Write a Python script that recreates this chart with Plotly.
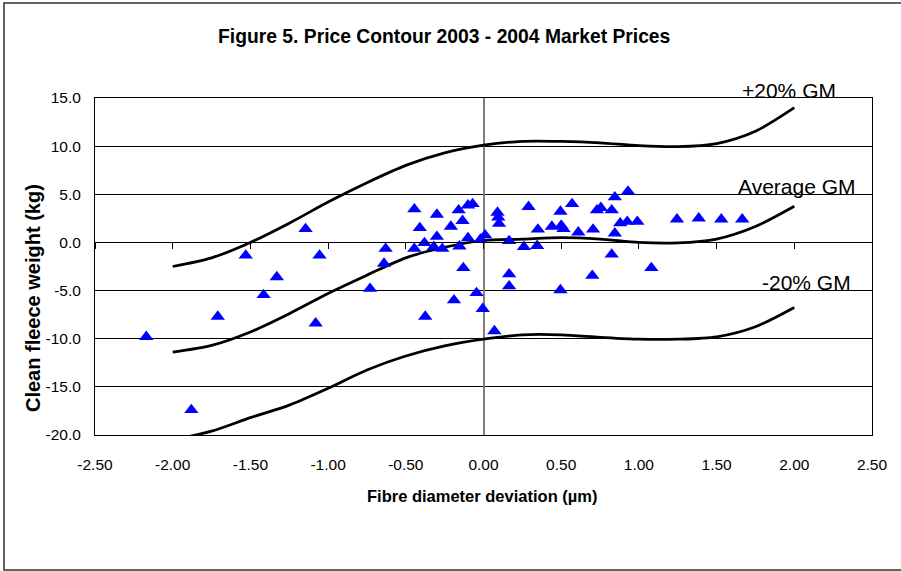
import plotly.graph_objects as go

# contour curves (fibre diameter deviation vs clean fleece weight)
curve_x = [-2.0, -1.75, -1.5, -1.25, -1.0, -0.75, -0.5, -0.25, 0.0,
           0.25, 0.5, 0.75, 1.0, 1.25, 1.5, 1.75, 2.0]
plus20 = [-2.5, -1.6, 0.0, 2.0, 4.2, 6.2, 8.0, 9.3, 10.1,
          10.5, 10.5, 10.35, 10.05, 9.95, 10.27, 11.55, 14.0]
average = [-11.4, -10.7, -9.3, -7.4, -5.3, -3.4, -1.6, -0.5, 0.2,
           0.35, 0.5, 0.35, 0.0, -0.05, 0.35, 1.65, 3.75]
minus20 = [-20.5, -19.6, -18.2, -16.9, -15.15, -13.25, -11.8, -10.75, -10.05,
           -9.6, -9.6, -9.85, -10.05, -10.05, -9.8, -8.75, -6.75]

# market price observations
fd_dev = [-2.17, -1.88, -1.71, -1.53, -1.415, -1.33, -1.145, -1.08, -1.055,
          -0.73, -0.64, -0.63, -0.445, -0.445, -0.41, -0.38, -0.375, -0.32,
          -0.30, -0.30, -0.265, -0.21, -0.19, -0.16, -0.155, -0.135, -0.13,
          -0.10, -0.10, -0.07, -0.045, -0.02, -0.005, 0.01, 0.07, 0.09,
          0.095, 0.10, 0.165, 0.165, 0.165, 0.26, 0.29, 0.345, 0.35,
          0.44, 0.495, 0.495, 0.50, 0.515, 0.57, 0.61, 0.70, 0.705,
          0.73, 0.755, 0.825, 0.825, 0.845, 0.845, 0.88, 0.925, 0.93,
          0.99, 1.08, 1.245, 1.385, 1.53, 1.665]
cfw = [-9.8, -17.4, -7.7, -1.35, -5.45, -3.6, 1.4, -8.4, -1.35,
       -4.8, -2.2, -0.65, 3.45, -0.65, 1.5, -0.05, -7.7, -0.45,
       2.9, 0.6, -0.65, 1.65, -6.0, 3.35, -0.4, 2.25, -2.65,
       3.85, 0.45, 4.0, -5.25, 0.3, -6.9, 0.75, -9.2, 3.1,
       2.6, 1.95, 0.15, -3.3, -4.55, -0.45, 3.7, -0.35, 1.35,
       1.65, 3.2, -4.95, 1.75, 1.4, 4.0, 1.05, -3.45, 1.35,
       3.35, 3.6, 3.35, -1.25, 0.95, 4.7, 2.0, 2.15, 5.3,
       2.15, -2.65, 2.4, 2.5, 2.4, 2.4]

x_ticks = [-2.5, -2.0, -1.5, -1.0, -0.5, 0.0, 0.5, 1.0, 1.5, 2.0, 2.5]
x_labels = ["-2.50", "-2.00", "-1.50", "-1.00", "-0.50", "0.00",
            "0.50", "1.00", "1.50", "2.00", "2.50"]
y_ticks = [15, 10, 5, 0, -5, -10, -15, -20]
y_labels = ["15.0", "10.0", "5.0", "0.0", "-5.0", "-10.0", "-15.0", "-20.0"]

FONT = "Liberation Sans, Arial, sans-serif"


def px_to_paper_y(py):
    # plot area spans pixels 98 (top) to 435 (bottom)
    return (435 - py) / 337


def px_to_paper_x(px):
    # plot area spans pixels 95 (left) to 872 (right)
    return (px - 95) / 777


fig = go.Figure()
for ys in (plus20, average, minus20):
    fig.add_trace(go.Scatter(x=curve_x, y=ys, mode="lines",
                             line=dict(color="black", width=2.75, shape="spline", smoothing=0.8),
                             hoverinfo="skip", showlegend=False))
fig.add_trace(go.Scatter(x=fd_dev, y=cfw, mode="markers",
                         marker=dict(symbol="triangle-up", size=12.5, color="#0000FF"),
                         showlegend=False))
# helper trace so the axis drawn through y = 0 gets rendered
fig.add_trace(go.Scatter(x=[0], y=[0], xaxis="x2", mode="markers",
                         marker=dict(opacity=0), hoverinfo="skip", showlegend=False))

fig.update_layout(
    width=901, height=571,
    margin=dict(l=95, r=29, t=98, b=136),
    paper_bgcolor="white", plot_bgcolor="white",
    font=dict(family=FONT, color="black"),
    title=dict(text="<b>Figure 5. Price Contour 2003 - 2004 Market Prices</b>",
               font=dict(size=19.3, family=FONT), x=0.493, xref="container",
               xanchor="center", y=1 - 36 / 571, yanchor="middle"),
    xaxis=dict(range=[-2.5, 2.5], tickvals=x_ticks, ticktext=x_labels,
               showgrid=False, zeroline=True, zerolinecolor="#808080", zerolinewidth=1.5,
               showline=True, mirror=True, linecolor="black", linewidth=1,
               ticks="", ticklabelstandoff=15, tickfont=dict(size=15.5)),
    xaxis2=dict(range=[-2.5, 2.5], overlaying="x", anchor="free", position=20 / 35,
                tickvals=x_ticks, showticklabels=False, showgrid=False, zeroline=False,
                showline=True, linecolor="black", linewidth=1,
                ticks="outside", ticklen=6, tickcolor="black", tickwidth=1),
    yaxis=dict(range=[-20, 15], tickvals=y_ticks, ticktext=y_labels,
               showgrid=True, gridcolor="black", gridwidth=1,
               zeroline=True, zerolinecolor="black", zerolinewidth=1,
               showline=True, mirror=True, linecolor="black", linewidth=1,
               ticks="", ticklabelstandoff=10, tickfont=dict(size=15.5)),
    annotations=[
        dict(text="+20% GM", x=px_to_paper_x(789), y=px_to_paper_y(90),
             xref="paper", yref="paper", showarrow=False, font=dict(size=21),
             xanchor="center", yanchor="middle"),
        dict(text="Average GM", x=px_to_paper_x(797), y=px_to_paper_y(186),
             xref="paper", yref="paper", showarrow=False, font=dict(size=21),
             xanchor="center", yanchor="middle"),
        dict(text="-20% GM", x=px_to_paper_x(806), y=px_to_paper_y(282),
             xref="paper", yref="paper", showarrow=False, font=dict(size=21),
             xanchor="center", yanchor="middle"),
        dict(text="<b>Fibre diameter deviation (µm)</b>", x=px_to_paper_x(482),
             y=px_to_paper_y(496), xref="paper", yref="paper", showarrow=False,
             font=dict(size=16.5), xanchor="center", yanchor="middle"),
        dict(text="<b>Clean fleece weight (kg)</b>", x=px_to_paper_x(33),
             y=px_to_paper_y(298), textangle=-90, xref="paper", yref="paper",
             showarrow=False, font=dict(size=20), xanchor="center", yanchor="middle"),
    ],
    shapes=[dict(type="rect", xref="paper", yref="paper",
                 x0=px_to_paper_x(4), x1=px_to_paper_x(920),
                 y0=px_to_paper_y(570), y1=px_to_paper_y(3),
                 line=dict(color="#333333", width=1.5))],
)

fig.write_html("out.html", config={"displayModeBar": False},
               post_script="document.body.style.margin = '0';")
